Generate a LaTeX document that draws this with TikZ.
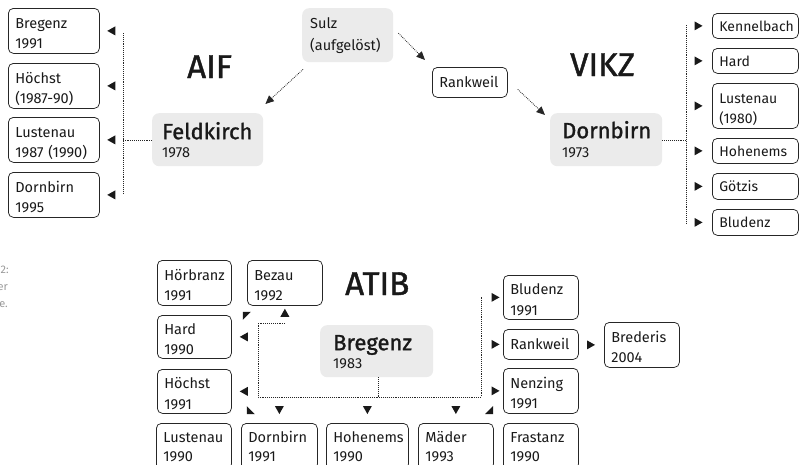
\documentclass[tikz,border=0pt]{standalone}
\usepackage{fontspec}
\setmainfont{Fira Sans}
\newfontfamily\headfont{Fira Sans}[FakeBold=1.3]
\usetikzlibrary{arrows.meta,calc}
% two-line box and one-line box: [options], name, x, y, width, height, text
\newcommand\bxn[7][]{\node[bx, text height=15pt, text depth=20.5pt, #1, minimum width=#5pt, minimum height=#6pt, text width=\dimexpr #5pt-14pt\relax] (#2) at (#3,#4) {#7};}
\newcommand\bxo[7][]{\node[bx, text height=10.5pt, text depth=0pt, #1, minimum width=#5pt, minimum height=#6pt, text width=\dimexpr #5pt-14pt\relax] (#2) at (#3,#4) {#7};}
\begin{document}
\begin{tikzpicture}[x=1pt,y=-1pt,
  bx/.style={draw=black!85, line width=0.75pt, rounded corners=5pt, anchor=north west,
    inner xsep=7pt, inner ysep=0pt, align=left,
    font=\fontsize{14.5}{20.5}\selectfont, text=black!90},
  vcol/.style={font=\fontsize{14}{20.5}\selectfont},
  lowrow/.style={text height=11pt, font=\fontsize{14.5}{19}\selectfont, text depth=19pt},
  gbx/.style={fill=black!8, rounded corners=7pt, anchor=north west, inner ysep=0pt,
    align=left, text=black!90, font=\fontsize{14.5}{18}\selectfont},
  hd/.style={font=\headfont\fontsize{33}{33}\selectfont, anchor=base west, inner sep=0pt, text=black!90},
  dotln/.style={line width=0.85pt, dash pattern=on 0.8pt off 1.1pt, draw=black!85},
  darr/.style={dotln, -{Triangle[length=8.5pt,width=7.5pt]}},
  captxt/.style={font=\fontsize{11}{11}\selectfont, text=black!40, anchor=base east, inner sep=0pt},
  triR/.pic={\fill[black!90] (-4,-4.5) -- (4,0) -- (-4,4.5) -- cycle;},
  triL/.pic={\fill[black!90] (4,-4.5) -- (-4,0) -- (4,4.5) -- cycle;},
  triU/.pic={\fill[black!90] (-4.5,4) -- (0,-4) -- (4.5,4) -- cycle;},
  triD/.pic={\fill[black!90] (-4.5,-4) -- (0,4) -- (4.5,-4) -- cycle;},
  cUL/.pic={\fill[black!90] (-4,-4) -- (4,-4) -- (-4,4) -- cycle;},
  cDL/.pic={\fill[black!90] (-4,-4) -- (-4,4) -- (4,4) -- cycle;},
  cDR/.pic={\fill[black!90] (4,-4) -- (4,4) -- (-4,4) -- cycle;}
]
\useasboundingbox (0,0) rectangle (804,464);
\clip (0,0) rectangle (804,464);

% caption fragments at the left edge
\node[captxt] (c1) at (9,273) {2:};
\node[captxt] (c2) at (8,290) {er};
\node[captxt] (c3) at (8,307) {e.};

% ---------------- AIF ----------------
\bxn{a1}{8}{8}{91}{45}{Bregenz\\1991}
\bxn{a2}{8}{63}{91}{45}{Höchst\\(1987-90)}
\bxn{a3}{8}{117}{91}{45}{Lustenau\\1987 (1990)}
\bxn{a4}{8}{172}{91}{45}{Dornbirn\\1995}
\node[gbx, minimum width=111pt, minimum height=53pt, inner xsep=10pt, text width=91pt,
  text height=17pt, text depth=18pt] (feld) at (152,113)
  {{\headfont\fontsize{22}{18}\selectfont Feldkirch}\\1978};
\node[hd] (aif) at (187,78) {AIF};
\coordinate (aifT) at (123,33);
\coordinate (aifB) at (123,193);
\coordinate (aifM) at (123,140);
\draw[dotln] (aifT) -- (aifB);
\draw[dotln] (feld.west |- aifM) -- (aifM);
\foreach \n in {a1,a2,a3,a4} \pic at ($(\n.east)+(11.5,0)$) {triL};

% ---------------- Sulz / Rankweil ----------------
\node[gbx, minimum width=91pt, minimum height=54pt, inner xsep=8pt, text width=75pt,
  text height=9pt, text depth=22pt,
  font=\fontsize{14.5}{22}\selectfont] (sulz) at (302,8) {Sulz\\(aufgelöst)};
\bxo{rank}{432}{67}{75}{30}{Rankweil}

% ---------------- VIKZ ----------------
\node[gbx, minimum width=112pt, minimum height=53pt, inner xsep=12pt, text width=88pt,
  text height=16pt, text depth=19pt, font=\fontsize{14.5}{19}\selectfont] (dorn) at (550,113)
  {{\headfont\fontsize{22}{19}\selectfont Dornbirn}\\1973};
\node[hd] (vikz) at (570,76) {VIKZ};
\bxo[vcol]{v1}{712}{13}{86}{25}{Kennelbach}
\bxo[vcol]{v2}{712}{48}{86}{25}{Hard}
\bxn[vcol]{v3}{712}{83}{86}{45}{Lustenau\\(1980)}
\bxo[vcol]{v4}{712}{138}{86}{25}{Hohenems}
\bxo[vcol]{v5}{712}{173}{86}{26}{Götzis}
\bxo[vcol]{v6}{712}{209}{86}{26}{Bludenz}
\coordinate (vikT) at (686,25);
\coordinate (vikB) at (686,223);
\coordinate (vikM) at (686,140);
\draw[dotln] (vikT) -- (vikB);
\draw[dotln] (dorn.east |- vikM) -- (vikM);
\foreach \n in {v1,v2,v3,v4,v5,v6} \pic at ($(\n.west)+(-13.5,0)$) {triR};

% diagonal arrows
\draw[darr] ($(sulz.south west)+(1,7)$) -- ($(feld.north east)+(2,-9)$);
\draw[darr] ($(sulz.east)+(5,-2)$) -- ($(rank.north west)+(-7,-7)$);
\draw[darr] ($(rank.east)+(10,7)$) -- ($(dorn.north west)+(-5,2)$);

% ---------------- ATIB ----------------
\node[gbx, minimum width=113pt, minimum height=52pt, inner xsep=13pt, text width=87pt,
  text height=16pt, text depth=18pt] (bre) at (320,325)
  {{\headfont\fontsize{22}{18}\selectfont Bregenz}\\1983};
\node[hd] (atib) at (345,295) {ATIB};
\bxn{t1}{157}{260}{74}{45}{Hörbranz\\1991}
\bxn{t2}{247}{260}{75}{45}{Bezau\\1992}
\bxn{t3}{157}{315}{74}{43}{Hard\\1990}
\bxn{t4}{157}{369}{74}{44}{Höchst\\1991}
\bxn[lowrow]{t5}{156}{423}{75}{46}{Lustenau\\1990}
\bxn[lowrow]{t6}{241}{423}{76}{46}{Dornbirn\\1991}
\bxn[lowrow]{t7}{326}{423}{82}{46}{Hohenems\\1990}
\bxn[lowrow]{t8}{418}{423}{75}{46}{Mäder\\1993}
\bxn[lowrow]{t9}{503}{423}{75}{46}{Frastanz\\1990}
\bxn{t10}{503}{275}{75}{44}{Bludenz\\1991}
\bxo{t11}{503}{329}{75}{30}{Rankweil}
\bxn{t12}{503}{368}{75}{45}{Nenzing\\1991}
\bxn{t13}{604}{322}{75}{45}{Brederis\\2004}

\coordinate (btl) at (258,323);
\coordinate (btr) at (285,323);
\coordinate (bbl) at (258,397);
\coordinate (bbr) at (481,397);
\coordinate (brt) at (481,297);
\draw[dotln] (btr) -- (btl) -- (bbl) -- (bbr) -- (brt);
\draw[dotln] ($(bre.south)+(1.5,0)$) -- ($(bre.south |- bbl)+(1.5,0)$);

\pic at ($(t1.south east)+(15,10)$) {cUL};
\pic at ($(t2.south)+(0,7)$) {triU};
\pic at ($(t3.east)+(12,0)$) {triL};
\pic at ($(t4.east)+(12,0)$) {triL};
\pic at ($(t5.north east)+(19,-13)$) {cDL};
\pic at ($(t6.north)+(0,-13)$) {triD};
\pic at ($(t7.north)+(0,-13)$) {triD};
\pic at ($(t8.north)+(0,-13)$) {triD};
\pic at ($(t9.north west)+(-14,-13)$) {cDR};
\pic at ($(t10.west)+(-7.5,0)$) {triR};
\pic at ($(t11.west)+(-7.5,0)$) {triR};
\pic at ($(t12.west)+(-7.5,0)$) {triR};
\pic at ($(t13.west)+(-13,0)$) {triR};
\end{tikzpicture}
\end{document}
